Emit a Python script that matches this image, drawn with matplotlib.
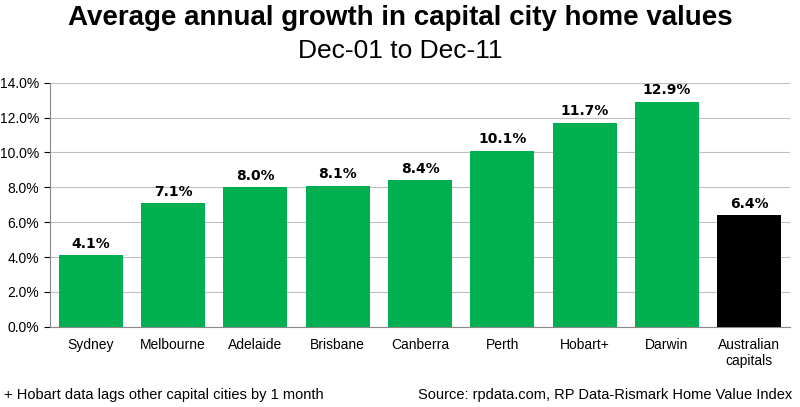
import matplotlib.pyplot as plt
import numpy as np

cities = ["Sydney", "Melbourne", "Adelaide", "Brisbane", "Canberra", "Perth",
          "Hobart+", "Darwin", "Australian\ncapitals"]
growth = [4.1, 7.1, 8.0, 8.1, 8.4, 10.1, 11.7, 12.9, 6.4]
colors = ["#00B050"] * 8 + ["#000000"]

plt.rcParams["font.family"] = ["Liberation Sans", "DejaVu Sans"]
fig = plt.figure(figsize=(8, 4.07), dpi=100)
ax = fig.add_axes([0.062, 0.197, 0.926, 0.6])

x = np.arange(len(cities))
ax.bar(x, growth, width=0.78, color=colors, zorder=3)
for xi, v in zip(x, growth):
    ax.text(xi, v + 0.25, f"{v:.1f}%", ha="center", va="bottom",
            fontsize=10, fontweight="bold", family="DejaVu Sans")

ax.set_xlim(-0.5, len(cities) - 0.5)
ax.set_ylim(0, 14)
ax.set_yticks(np.arange(0, 14.1, 2))
ax.set_yticklabels([f"{t:.1f}%" for t in np.arange(0, 14.1, 2)], fontsize=10)
ax.set_xticks(x)
ax.set_xticklabels(cities, fontsize=10)
ax.tick_params(axis="x", length=0, pad=8)
ax.tick_params(axis="y", length=4)
ax.grid(axis="y", color="#BFBFBF", linewidth=0.8, zorder=0)
for s in ["top", "right"]:
    ax.spines[s].set_visible(False)
ax.spines["left"].set_color("#888888")
ax.spines["bottom"].set_color("#888888")

fig.text(0.5, 0.955, "Average annual growth in capital city home values",
         ha="center", va="center", fontsize=20, fontweight="bold")
fig.text(0.5, 0.875, "Dec-01 to Dec-11", ha="center", va="center", fontsize=19)
fig.text(0.005, 0.03, "+ Hobart data lags other capital cities by 1 month",
         ha="left", va="center", fontsize=10.5)
fig.text(0.99, 0.03, "Source: rpdata.com, RP Data-Rismark Home Value Index",
         ha="right", va="center", fontsize=10.5)

fig.savefig("out.png", dpi=100)
